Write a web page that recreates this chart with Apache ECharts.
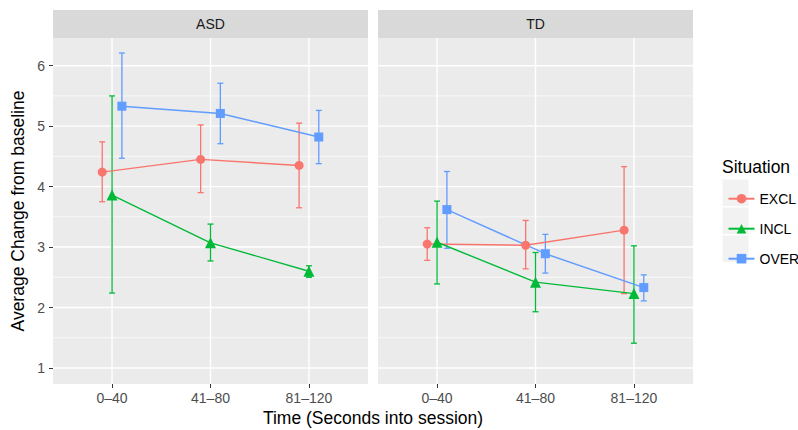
<!DOCTYPE html>
<html>
<head>
<meta charset="utf-8">
<script src="https://cdn.jsdelivr.net/npm/echarts@6/dist/echarts.min.js"></script>
<style>html,body{margin:0;padding:0;background:#fff;}#c{width:798px;height:430px;}</style>
</head>
<body>
<div id="c"></div>
<script>
// ---- data ----
const categories = ['0\u201340', '41\u201380', '81\u2013120'];
const panels = ['ASD', 'TD'];
const situations = ['EXCL', 'INCL', 'OVER'];
const yTicks = [1, 2, 3, 4, 5, 6];
const yMinorTicks = [1.5, 2.5, 3.5, 4.5, 5.5];
const xTicks = [1, 2, 3];

// ASD
const asdExclMean = [4.24, 4.45, 4.35];
const asdExclLow  = [3.75, 3.90, 3.65];
const asdExclHigh = [4.74, 5.02, 5.05];
const asdInclMean = [3.86, 3.07, 2.60];
const asdInclLow  = [2.24, 2.77, 2.50];
const asdInclHigh = [5.50, 3.38, 2.69];
const asdOverMean = [5.33, 5.21, 4.82];
const asdOverLow  = [4.47, 4.71, 4.38];
const asdOverHigh = [6.21, 5.71, 5.26];
// TD
const tdExclMean = [3.05, 3.03, 3.28];
const tdExclLow  = [2.78, 2.64, 2.23];
const tdExclHigh = [3.32, 3.44, 4.33];
const tdInclMean = [3.08, 2.42, 2.23];
const tdInclLow  = [2.39, 1.93, 1.41];
const tdInclHigh = [3.76, 2.91, 3.02];
const tdOverMean = [3.62, 2.89, 2.33];
const tdOverLow  = [2.98, 2.57, 2.11];
const tdOverHigh = [4.25, 3.21, 2.54];

const panelData = [
  { EXCL: [asdExclMean, asdExclLow, asdExclHigh], INCL: [asdInclMean, asdInclLow, asdInclHigh], OVER: [asdOverMean, asdOverLow, asdOverHigh] },
  { EXCL: [tdExclMean, tdExclLow, tdExclHigh], INCL: [tdInclMean, tdInclLow, tdInclHigh], OVER: [tdOverMean, tdOverLow, tdOverHigh] }
];

// ---- styles ----
const colors = { EXCL: '#F8766D', INCL: '#00BA38', OVER: '#619CFF' };
const symbols = { EXCL: 'circle', INCL: 'triangle', OVER: 'rect' };
const symbolSizes = { EXCL: 9, INCL: 11, OVER: 9 };
const dodge = { EXCL: -0.1, INCL: 0, OVER: 0.1 };
const FONT = 'Liberation Sans, Arial, Helvetica, sans-serif';

const gridLefts = [53, 378];
const gridW = 315, gridTop = 38, gridH = 346;

const grids = [], xAxes = [], yAxes = [], series = [];
panels.forEach((p, pi) => {
  grids.push({ left: gridLefts[pi], top: gridTop, width: gridW, height: gridH, show: true, backgroundColor: '#EBEBEB', borderWidth: 0, containLabel: false });
  xAxes.push({
    type: 'value', gridIndex: pi, min: 0.4, max: 3.6,
    axisLine: { show: false },
    splitLine: { show: false },
    axisTick: { show: true, customValues: xTicks, length: 4, lineStyle: { color: '#333333', width: 1 } },
    axisLabel: { customValues: xTicks, formatter: v => categories[Math.round(v) - 1], color: '#4D4D4D', fontSize: 14, fontFamily: FONT, margin: 7 }
  });
  yAxes.push({
    type: 'value', gridIndex: pi, min: 0.735, max: 6.458,
    axisLine: { show: false },
    splitLine: { show: false },
    axisTick: { show: pi === 0, customValues: yTicks, length: 4, lineStyle: { color: '#333333', width: 1 } },
    axisLabel: { show: pi === 0, customValues: yTicks, color: '#4D4D4D', fontSize: 14, fontFamily: FONT, margin: 8 },
    name: pi === 0 ? 'Average Change from baseline' : '',
    nameLocation: 'middle', nameRotate: 90, nameGap: 26,
    nameTextStyle: { color: '#000', fontSize: 17.5, fontFamily: FONT }
  });
  // gridlines
  series.push({
    type: 'custom', name: 'hgrid' + pi, xAxisIndex: pi, yAxisIndex: pi, z: 1, silent: true,
    data: yMinorTicks.map(v => [2, v, 0.7]).concat(yTicks.map(v => [2, v, 1.4])),
    renderItem: (params, api) => {
      const cs = params.coordSys;
      const y = api.coord([2, api.value(1)])[1];
      return { type: 'line', shape: { x1: cs.x, y1: y, x2: cs.x + cs.width, y2: y }, style: { stroke: '#FFFFFF', lineWidth: api.value(2) } };
    }
  });
  series.push({
    type: 'custom', name: 'vgrid' + pi, xAxisIndex: pi, yAxisIndex: pi, z: 1, silent: true,
    data: xTicks.map(v => [v, 3]),
    renderItem: (params, api) => {
      const cs = params.coordSys;
      const x = api.coord([api.value(0), 3])[0];
      return { type: 'line', shape: { x1: x, y1: cs.y, x2: x, y2: cs.y + cs.height }, style: { stroke: '#FFFFFF', lineWidth: 1.4 } };
    }
  });
  situations.forEach(s => {
    const [mean, low, high] = panelData[pi][s];
    // error bars
    series.push({
      type: 'custom', name: s + ' error ' + p, xAxisIndex: pi, yAxisIndex: pi, z: 3, silent: true,
      data: mean.map((m, i) => [i + 1 + dodge[s], low[i], high[i]]),
      encode: { x: 0, y: [1, 2] },
      renderItem: (params, api) => {
        const x = api.value(0);
        const lo = api.coord([x, api.value(1)]);
        const hi = api.coord([x, api.value(2)]);
        const hw = 3;
        const st = { stroke: colors[s], lineWidth: 1.3 };
        return { type: 'group', children: [
          { type: 'line', shape: { x1: lo[0], y1: lo[1], x2: hi[0], y2: hi[1] }, style: st },
          { type: 'line', shape: { x1: lo[0] - hw, y1: lo[1], x2: lo[0] + hw, y2: lo[1] }, style: st },
          { type: 'line', shape: { x1: hi[0] - hw, y1: hi[1], x2: hi[0] + hw, y2: hi[1] }, style: st }
        ]};
      }
    });
    // lines + points
    series.push({
      type: 'line', name: s, xAxisIndex: pi, yAxisIndex: pi, z: 4,
      data: mean.map((m, i) => [i + 1 + dodge[s], m]),
      symbol: symbols[s], symbolSize: symbolSizes[s], showAllSymbol: true,
      itemStyle: { color: colors[s] },
      lineStyle: { color: colors[s], width: 1.4 },
      emphasis: { disabled: true },
      animation: false
    });
  });
});

const graphics = [];
panels.forEach((p, pi) => {
  graphics.push({ type: 'rect', left: gridLefts[pi], top: 10, shape: { width: gridW, height: 28 }, style: { fill: '#D9D9D9' }, silent: true });
  graphics.push({ type: 'text', x: gridLefts[pi] + gridW / 2, y: 24, style: { text: p, fill: '#1A1A1A', font: '14px ' + FONT, textAlign: 'center', textVerticalAlign: 'middle' }, silent: true });
});
graphics.push({ type: 'text', x: 373, y: 418, style: { text: 'Time (Seconds into session)', fill: '#000', font: '17.5px ' + FONT, textAlign: 'center', textVerticalAlign: 'middle' }, silent: true });
graphics.push({ type: 'text', x: 722, y: 167, style: { text: 'Situation', fill: '#000', font: '17.5px ' + FONT, textAlign: 'left', textVerticalAlign: 'middle' }, silent: true });
situations.forEach((s, i) => {
  graphics.push({ type: 'rect', x: 722.5, y: 179.5 + i * 28, shape: { width: 26, height: 26.5 }, style: { fill: '#F2F2F2' }, silent: true, z: 1 });
});

const option = {
  animation: false,
  grid: grids,
  xAxis: xAxes,
  yAxis: yAxes,
  series: series,
  graphic: graphics,
  legend: {
    data: situations, orient: 'vertical', left: 722.5, top: 186.7,
    itemWidth: 26, itemHeight: 12, itemGap: 16, z: 5,
    textStyle: { color: '#000', fontSize: 14, fontFamily: FONT },
    selectedMode: false
  }
};
const chart = echarts.init(document.getElementById('c'), null, { renderer: 'svg' });
chart.setOption(option);
</script>
</body>
</html>
